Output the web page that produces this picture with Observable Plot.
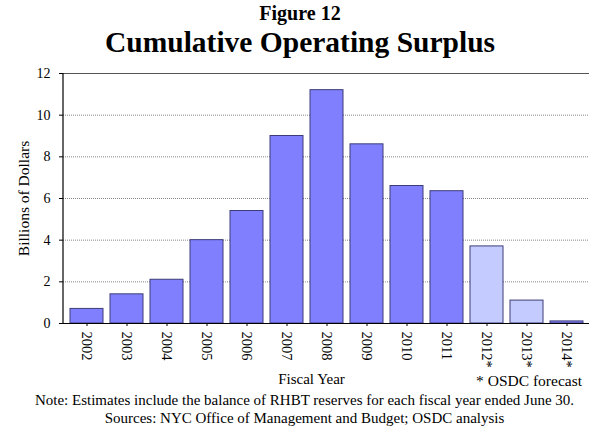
<!DOCTYPE html>
<html><head><meta charset="utf-8">
<script src="https://cdn.jsdelivr.net/npm/d3@7"></script>
<script src="https://cdn.jsdelivr.net/npm/@observablehq/plot@0.6"></script>
<style>
body{margin:0;width:589px;height:427px;background:#fff;font-family:"Liberation Serif","Times New Roman",serif;position:relative;overflow:hidden}
.t1{position:absolute;left:0;width:600px;text-align:center;top:2px;font-weight:bold;font-size:20px}
.t2{position:absolute;left:0;width:600px;text-align:center;top:26px;font-weight:bold;font-size:29.5px}
#chart{position:absolute;left:0;top:62px}
#chart svg text{font-family:"Liberation Serif","Times New Roman",serif}
.fc{position:absolute;right:7px;top:372px;font-size:15.5px;white-space:nowrap}
.n1{position:absolute;left:0;width:609px;text-align:center;top:392px;font-size:15px;white-space:nowrap}
.n2{position:absolute;left:0;width:609px;text-align:center;top:410px;font-size:15px;white-space:nowrap}
</style></head>
<body>
<div class="t1">Figure 12</div>
<div class="t2">Cumulative Operating Surplus</div>
<div id="chart"></div>
<div class="fc">* OSDC forecast</div>
<div class="n1">Note: Estimates include the balance of RHBT reserves for each fiscal year ended June 30.</div>
<div class="n2">Sources: NYC Office of Management and Budget; OSDC analysis</div>
<script>
const years = ["2002","2003","2004","2005","2006","2007","2008","2009","2010","2011","2012*","2013*","2014*"];
const values = [0.7,1.4,2.1,4.0,5.4,9.0,11.2,8.6,6.6,6.35,3.7,1.1,0.1];
const kinds = ["a","a","a","a","a","a","a","a","a","a","f","f","a"];
const yTicks = [0,2,4,6,8,10,12];

const data = years.map((y,i)=>({year:y, value:values[i], kind:kinds[i]}));
const serif = '"Liberation Serif","Times New Roman",serif';

const chart = Plot.plot({
  width: 589, height: 330,
  marginTop: 11, marginBottom: 69, marginLeft: 63, marginRight: 0,
  style: {fontFamily: serif, fontSize: "13px", color: "#000", background: "transparent"},
  x: {domain: years, paddingInner: 0.18, paddingOuter: 0.09, label: null},
  y: {domain: [0,12], label: null},
  color: {domain: ["a","f"], range: ["#8080ff","#c4ccff"]},
  marks: [
    Plot.ruleY(yTicks.filter(d=>d>0 && d<12), {stroke: "#888", strokeDasharray: "1,1", strokeWidth: 1}),
    Plot.ruleY([12], {stroke: "#555", strokeWidth: 1.2}),
    Plot.barY(data, {x: "year", y: "value", fill: "kind", stroke: "#3c3c78", strokeWidth: 1}),
    Plot.axisY({ticks: yTicks, tickSize: 4, tickPadding: 9, fontSize: 14, label: "Billions of Dollars", labelAnchor: "center", labelOffset: 46, labelArrow: "none"}),
    Plot.axisX({tickSize: 3, tickRotate: 90, tickPadding: 5, fontSize: 14.5, label: null}),
    Plot.text(["Fiscal Year"], {frameAnchor: "bottom", dx: -15, dy: 56, lineAnchor: "middle", textAnchor: "middle", fontSize: 15, fill: "#000"}),
    Plot.ruleY([0], {stroke: "#000", strokeWidth: 1.2})
  ]
});
document.getElementById("chart").appendChild(chart);
const svg = d3.select(chart);
svg.append("line").attr("x1",63).attr("x2",63).attr("y1",11).attr("y2",261).attr("stroke","#000").attr("stroke-width",1.2);
svg.selectAll("text").style("font-family", serif);
svg.selectAll('[aria-label="y-axis label"] text').style("font-size","15.5px");
</script>
</body></html>
